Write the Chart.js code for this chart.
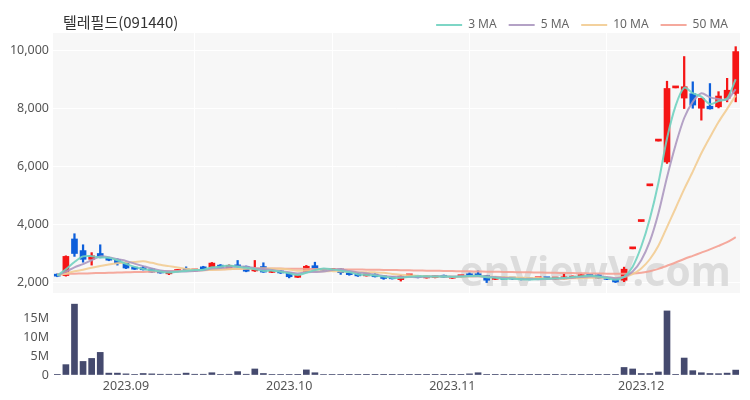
<!DOCTYPE html>
<html>
<head>
<meta charset="utf-8">
<script src="https://cdn.jsdelivr.net/npm/chart.js@4.4.0/dist/chart.umd.min.js"></script>
<style>
  body { margin: 0; background: #fff; }
  #wrap { position: relative; width: 750px; height: 400px; }
  #title { position: absolute; left: 63px; top: 12px; line-height: 20px; font-size: 15px; font-family: "Noto Sans CJK KR", sans-serif; color: #333; }
  #priceBox { position: absolute; left: 0; top: 0; width: 750px; height: 293px; }
  #volBox { position: absolute; left: 0; top: 293px; width: 750px; height: 107px; }
</style>
</head>
<body>
<div id="wrap">
  <div id="priceBox"><canvas id="price"></canvas></div>
  <div id="volBox"><canvas id="vol"></canvas></div>
  <div id="title">텔레필드(091440)</div>
</div>
<script>
// trading days, 2023-08-22 .. 2023-12-18
const dates = [
  "2023-08-22","2023-08-23","2023-08-24","2023-08-25","2023-08-28","2023-08-29","2023-08-30","2023-08-31",
  "2023-09-01","2023-09-04","2023-09-05","2023-09-06","2023-09-07","2023-09-08","2023-09-11","2023-09-12",
  "2023-09-13","2023-09-14","2023-09-15","2023-09-18","2023-09-19","2023-09-20","2023-09-21","2023-09-22",
  "2023-09-25","2023-09-26","2023-09-27",
  "2023-10-04","2023-10-05","2023-10-06","2023-10-10","2023-10-11","2023-10-12","2023-10-13","2023-10-16",
  "2023-10-17","2023-10-18","2023-10-19","2023-10-20","2023-10-23","2023-10-24","2023-10-25","2023-10-26",
  "2023-10-27","2023-10-30","2023-10-31",
  "2023-11-01","2023-11-02","2023-11-03","2023-11-06","2023-11-07","2023-11-08","2023-11-09","2023-11-10",
  "2023-11-13","2023-11-14","2023-11-15","2023-11-16","2023-11-17","2023-11-20","2023-11-21","2023-11-22",
  "2023-11-23","2023-11-24","2023-11-27","2023-11-28","2023-11-29","2023-11-30",
  "2023-12-01","2023-12-04","2023-12-05","2023-12-06","2023-12-07","2023-12-08","2023-12-11","2023-12-12",
  "2023-12-13","2023-12-14","2023-12-15","2023-12-18"
];

const opens = [2280,2240,3500,3100,2800,3000,2850,2800,2660,2520, 2480,2470,2380,2300,2380,2480,2400,2540,2530,2600,
  2480,2600,2560,2400,2550,2350,2400,2340,2180,2380, 2580,2440,2420,2470,2330,2300,2230,2290,2230,2200,
  2100,2230,2240,2160,2170,2250,2150,2200,2300,2300, 2240,2110,2180,2170,2150,2150,2130,2150,2120,2130,
  2150,2200,2270,2260,2150,2130,2080,3160,4100,5330, 6870,6150,8700,8350,8500,8000,8070,8050,8340,8510];
const highs = [2300,2920,3680,3300,3030,3300,2870,2820,2680,2530, 2560,2480,2390,2350,2450,2540,2450,2560,2690,2620,
  2610,2760,2570,2760,2680,2440,2410,2350,2260,2590, 2700,2460,2480,2480,2340,2310,2300,2300,2240,2210,
  2240,2280,2250,2230,2240,2260,2210,2250,2330,2400, 2250,2190,2190,2180,2160,2160,2160,2160,2170,2300,
  2230,2270,2280,2270,2160,2140,2530,3160,4100,5330, 6870,8930,8700,9780,8910,8350,8850,8570,9030,10120];
const lows = [2200,2220,2900,2700,2600,2850,2750,2600,2480,2450, 2430,2350,2320,2270,2370,2410,2390,2440,2520,2500,
  2460,2530,2370,2380,2350,2340,2310,2160,2170,2370, 2450,2400,2410,2280,2250,2210,2220,2190,2110,2120,
  2050,2220,2160,2150,2160,2170,2140,2190,2220,2220, 2000,2100,2100,2110,2090,2090,2120,2120,2110,2120,
  2140,2190,2200,2140,2100,2000,2030,3160,4100,5330, 6870,6100,8700,7990,8000,7590,7970,8010,8220,8220];
const closes = [2220,2900,3000,2800,2920,2870,2770,2660,2500,2460, 2440,2360,2330,2340,2440,2420,2440,2460,2670,2510,
  2590,2540,2390,2450,2360,2420,2330,2200,2250,2560, 2470,2420,2470,2340,2270,2230,2290,2200,2140,2130,
  2220,2260,2170,2220,2230,2180,2200,2240,2230,2230, 2080,2180,2110,2120,2100,2100,2150,2130,2160,2180,
  2220,2260,2210,2150,2110,2020,2460,3160,4100,5330, 6870,8680,8700,8740,8110,8340,7980,8420,8620,9950];
const volumes = [50000,2750000,18800000,3600000,4400000,6000000,500000,500000,300000,100000,
  400000,300000,200000,200000,200000,500000,200000,200000,600000,100000,
  200000,900000,200000,1600000,400000,100000,100000,100000,50000,1350000,
  600000,150000,100000,100000,50000,100000,50000,50000,50000,50000,
  100000,50000,50000,50000,50000,50000,50000,50000,300000,600000,
  100000,50000,50000,50000,50000,50000,50000,50000,50000,150000,
  50000,50000,50000,50000,50000,50000,2000000,1600000,400000,400000,
  800000,17000000,30000,4500000,1150000,600000,400000,350000,500000,1300000];

const ma3 = [2240,2457,2707,2900,2907,2863,2853,2767,2643,2540, 2467,2420,2377,2343,2370,2400,2433,2440,2523,2547,
  2590,2547,2507,2460,2400,2410,2370,2317,2260,2337, 2427,2483,2453,2410,2360,2280,2263,2240,2210,2157,
  2163,2203,2217,2217,2207,2210,2203,2207,2223,2233, 2180,2163,2123,2137,2110,2107,2117,2127,2147,2157,
  2187,2220,2230,2207,2157,2093,2197,2547,3240,4197, 5433,6960,8083,8707,8517,8397,8143,8247,8340,8997];
const ma5 = [2244,2374,2524,2634,2768,2898,2872,2804,2744,2652, 2566,2484,2418,2386,2382,2378,2394,2420,2486,2500,
  2534,2554,2540,2496,2466,2432,2390,2352,2312,2352, 2362,2380,2434,2452,2394,2346,2320,2266,2226,2198,
  2196,2190,2184,2200,2220,2212,2200,2214,2216,2216, 2196,2192,2166,2144,2118,2122,2116,2120,2128,2144,
  2168,2190,2206,2204,2190,2150,2190,2380,2770,3414, 4384,5628,6736,7664,8220,8514,8374,8318,8294,8662];
const ma10 = [2247,2312,2387,2442,2509,2571,2623,2664,2689,2710, 2732,2678,2611,2565,2517,2472,2439,2419,2436,2441,
  2456,2474,2480,2491,2483,2483,2472,2446,2404,2409, 2397,2385,2393,2382,2373,2354,2350,2350,2339,2296,
  2271,2255,2225,2213,2209,2204,2195,2199,2208,2218, 2204,2196,2190,2180,2167,2159,2154,2143,2136,2131,
  2145,2153,2163,2166,2167,2159,2190,2293,2487,2802, 3267,3909,4558,5217,5817,6449,7001,7527,7979,8441];
const ma50 = [2290,2295,2305,2310,2320,2330,2335,2345,2350,2360, 2365,2375,2380,2390,2400,2410,2420,2430,2445,2455,
  2465,2475,2480,2485,2485,2485,2480,2478,2475,2470, 2468,2465,2460,2455,2450,2447,2443,2440,2435,2430,
  2425,2420,2415,2410,2405,2400,2395,2390,2385,2380, 2375,2370,2365,2360,2355,2350,2345,2340,2335,2330,
  2325,2320,2315,2310,2305,2300,2300,2310,2340,2390, 2470,2580,2690,2810,2920,3030,3140,3260,3390,3560];

const priceTicks = [2000, 4000, 6000, 8000, 10000];
const volTicks = [0, 5000000, 10000000, 15000000];
const volTickLabels = ["0", "5M", "10M", "15M"];

const UP = "#f51616";
const DOWN = "#0d5fdb";
const tickFont = { family: "Noto Sans", size: 12.5 };

const plotBg = {
  id: "plotBg",
  beforeDraw(chart) {
    const { ctx, chartArea: a } = chart;
    ctx.save();
    ctx.fillStyle = "#f7f7f7";
    ctx.fillRect(a.left, a.top, a.right - a.left, a.bottom - a.top);
    ctx.restore();
  }
};

const watermark = {
  id: "watermark",
  beforeDatasetsDraw(chart) {
    const { ctx } = chart;
    ctx.save();
    ctx.fillStyle = "#dcdcdc";
    ctx.font = "bold 41px 'Noto Sans'";
    ctx.textAlign = "center";
    ctx.textBaseline = "alphabetic";
    ctx.fillText("enViewV.com", 595, 286);
    ctx.restore();
  }
};

const candleColor = (c) => (closes[c.dataIndex] >= opens[c.dataIndex] ? UP : DOWN);
const gridX = (c) => (c.index > 0 && c.index % 16 === 0 ? "#ffffff" : "rgba(0,0,0,0)");
// fixed axis box, no extra label padding around the plot
const fixY = (s) => { s.width = 53; s.paddingTop = 0; s.paddingBottom = 0; };

new Chart(document.getElementById("price"), {
  type: "bar",
  data: {
    labels: dates,
    datasets: [
      { type: "line", label: "3 MA", data: ma3, borderColor: "rgba(112,210,192,0.9)", borderWidth: 2, pointRadius: 0, tension: 0.3 },
      { type: "line", label: "5 MA", data: ma5, borderColor: "rgba(172,152,192,0.9)", borderWidth: 2, pointRadius: 0, tension: 0.3 },
      { type: "line", label: "10 MA", data: ma10, borderColor: "rgba(242,204,146,0.9)", borderWidth: 2, pointRadius: 0, tension: 0.3 },
      { type: "line", label: "50 MA", data: ma50, borderColor: "rgba(244,160,146,0.9)", borderWidth: 2, pointRadius: 0, tension: 0.3 },
      { label: "wick", data: lows.map((l, i) => [l, highs[i]]), backgroundColor: candleColor, barThickness: 1.6, grouped: false },
      { label: "body", data: opens.map((o, i) => [o, closes[i]]), backgroundColor: candleColor, barThickness: 6, minBarLength: 2, grouped: false }
    ]
  },
  options: {
    responsive: true,
    maintainAspectRatio: false,
    animation: false,
    layout: { padding: { top: 7, right: 10, left: 0, bottom: 0 } },
    plugins: {
      tooltip: { enabled: false },
      legend: {
        position: "top",
        align: "end",
        maxHeight: 26,
        labels: {
          filter: (item) => item.datasetIndex < 4,
          usePointStyle: true,
          pointStyle: "line",
          pointStyleWidth: 26,
          padding: 12,
          color: "#666",
          font: { family: "Noto Sans", size: 12 }
        }
      }
    },
    scales: {
      x: {
        offset: true,
        grid: { offset: false, color: gridX, drawTicks: false },
        border: { display: false },
        ticks: { display: false, autoSkip: false },
        afterFit: (s) => { s.height = 0; s.paddingLeft = 0; s.paddingRight = 0; }
      },
      y: {
        min: 1640,
        max: 10590,
        afterBuildTicks: (s) => { s.ticks = priceTicks.map((v) => ({ value: v })); },
        grid: { color: "#ffffff", drawTicks: false },
        border: { display: false },
        ticks: { padding: 4, color: "#555", font: tickFont, callback: (v) => v.toLocaleString("en-US") },
        afterFit: fixY
      }
    }
  },
  plugins: [plotBg, watermark]
});

new Chart(document.getElementById("vol"), {
  type: "bar",
  data: {
    labels: dates,
    datasets: [
      { label: "volume", data: volumes, backgroundColor: "#454a6e", barThickness: 6 }
    ]
  },
  options: {
    responsive: true,
    maintainAspectRatio: false,
    animation: false,
    layout: { padding: { top: 7, right: 10, left: 0, bottom: 0 } },
    plugins: { tooltip: { enabled: false }, legend: { display: false } },
    scales: {
      x: {
        offset: true,
        grid: { offset: false, color: gridX, drawTicks: false },
        border: { display: false },
        ticks: {
          autoSkip: false,
          maxRotation: 0,
          minRotation: 0,
          padding: 4,
          color: "#555",
          font: tickFont,
          callback: (v, i) => {
            if (i === 0 || dates[i].slice(5, 7) === dates[i - 1].slice(5, 7)) return "";
            return dates[i].slice(0, 7).replace("-", ".");
          }
        },
        afterFit: (s) => { s.height = 25; s.paddingLeft = 0; s.paddingRight = 0; }
      },
      y: {
        min: 0,
        max: 19900000,
        afterBuildTicks: (s) => { s.ticks = volTicks.map((v) => ({ value: v })); },
        grid: { color: "#ffffff", drawTicks: false },
        border: { display: false },
        ticks: { padding: 4, color: "#555", font: tickFont, callback: (v) => volTickLabels[volTicks.indexOf(v)] },
        afterFit: fixY
      }
    }
  }
});
</script>
</body>
</html>
